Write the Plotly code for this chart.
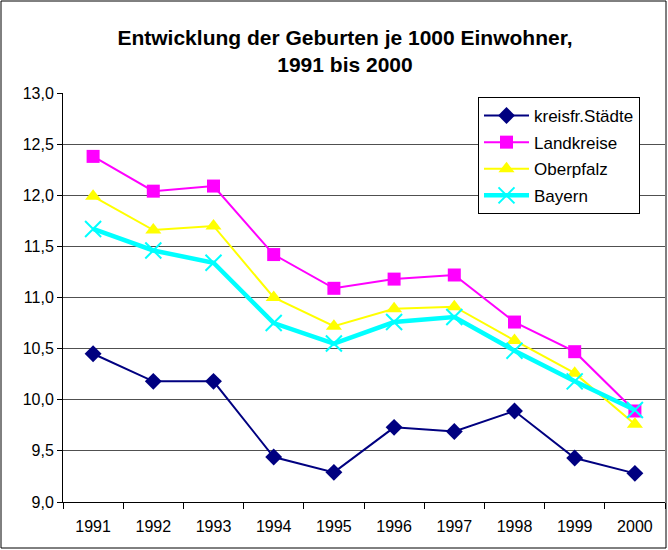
import plotly.graph_objects as go

years = ["1991", "1992", "1993", "1994", "1995", "1996", "1997", "1998", "1999", "2000"]
kreisfr = [10.45, 10.18, 10.18, 9.44, 9.29, 9.73, 9.69, 9.89, 9.43, 9.28]
landkreise = [12.38, 12.04, 12.09, 11.42, 11.09, 11.18, 11.22, 10.76, 10.47, 9.89]
oberpfalz = [11.99, 11.66, 11.70, 11.00, 10.72, 10.89, 10.91, 10.58, 10.26, 9.76]
bayern = [11.67, 11.46, 11.34, 10.75, 10.55, 10.76, 10.81, 10.48, 10.18, 9.90]
y_ticks = [9.0, 9.5, 10.0, 10.5, 11.0, 11.5, 12.0, 12.5, 13.0]

W, H = 668, 550
ML, MR, MT, MB = 63, 3, 93, 48
PW, PH = W - ML - MR, H - MT - MB

fig = go.Figure()
fig.add_trace(go.Scatter(x=years, y=kreisfr, name="kreisfr.Städte", mode="lines+markers",
                         line=dict(color="#000080", width=2),
                         marker=dict(symbol="diamond", size=13, color="#000080"),
                         legendgroup="a"))
fig.add_trace(go.Scatter(x=years, y=landkreise, name="Landkreise", mode="lines+markers",
                         line=dict(color="#FF00FF", width=2),
                         marker=dict(symbol="square", size=13, color="#FF00FF"),
                         legendgroup="b"))
fig.add_trace(go.Scatter(x=years, y=oberpfalz, name="Oberpfalz", mode="lines+markers",
                         line=dict(color="#FFFF00", width=2),
                         marker=dict(symbol="triangle-up", size=14, color="#FFFF00"),
                         legendgroup="c"))
fig.add_trace(go.Scatter(x=years, y=bayern, name="Bayern", mode="lines+markers",
                         line=dict(color="#00FFFF", width=4.5),
                         marker=dict(symbol="x-thin", size=16,
                                     line=dict(color="#00FFFF", width=2), color="#00FFFF"),
                         legendgroup="d"))

fig.update_layout(
    width=W, height=H,
    margin=dict(l=ML, r=MR, t=MT, b=MB),
    paper_bgcolor="white", plot_bgcolor="white",
    separators=",.",
    font=dict(family="Arial, Liberation Sans, sans-serif", size=16, color="black"),
    title=dict(text="<b>Entwicklung der Geburten je 1000 Einwohner,<br>1991 bis 2000</b>",
               x=345 / W, xanchor="center", y=1 - 45 / H, yanchor="middle",
               font=dict(size=21, color="black")),
    showlegend=True,
    legend=dict(x=(478 - ML) / PW, y=(H - MB - 97) / PH, xanchor="left", yanchor="top",
                bgcolor="white", bordercolor="black", borderwidth=1,
                font=dict(size=17), tracegroupgap=1.5, itemwidth=45),
    xaxis=dict(type="category", range=[-0.5, 9.5], showgrid=False,
               showline=True, linecolor="black", linewidth=1,
               ticks="outside", tickson="boundaries", ticklen=6, tickcolor="black",
               tickfont=dict(size=16), ticklabelstandoff=10),
    yaxis=dict(range=[9.0, 13.0], tickvals=y_ticks, tickformat=".1f",
               showgrid=True, gridcolor="#505050", gridwidth=1,
               showline=True, linecolor="black", linewidth=1,
               ticks="outside", ticklen=5, tickcolor="black",
               tickfont=dict(size=16), zeroline=False),
    shapes=[dict(type="rect", xref="paper", yref="paper",
                 x0=(1 - ML) / PW, x1=(666 - ML) / PW,
                 y0=(H - MB - 548) / PH, y1=(H - MB - 1) / PH,
                 line=dict(color="black", width=1), fillcolor="rgba(0,0,0,0)", layer="below")],
)

fig.write_html("out.html", config={"displayModeBar": False},
               post_script="document.body.style.margin='0px';")
